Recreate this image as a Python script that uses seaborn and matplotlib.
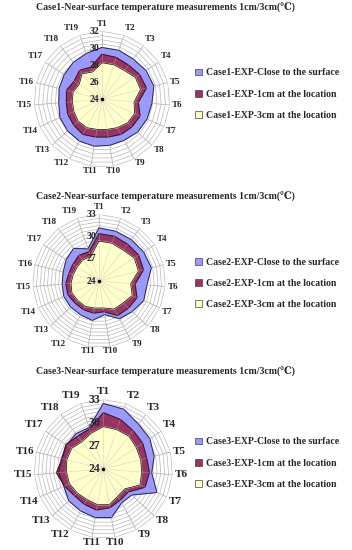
import numpy as np
import matplotlib
matplotlib.use("Agg")
import matplotlib.pyplot as plt
import seaborn as sns
from matplotlib.patches import Patch

sns.set_style("white")
plt.rcParams['font.family'] = ['Liberation Serif', 'DejaVu Serif']
plt.rcParams['font.weight'] = 'bold'

points = ["T%d" % i for i in range(1, 20)]

# case 1 (axis 24-32)
case1_surface = [30.1, 30.1, 30.0, 30.2, 30.3, 29.9, 29.8, 29.7, 29.5, 29.5,
                 29.6, 29.6, 29.5, 29.4, 29.1, 29.2, 29.3, 29.5, 29.7]
case1_1cm = [29.3, 29.2, 29.1, 29.3, 29.4, 28.3, 28.9, 28.8, 28.7, 28.5,
             28.5, 28.7, 28.5, 28.4, 28.2, 28.3, 27.9, 28.3, 28.0]
case1_3cm = [28.3, 28.3, 28.3, 28.7, 28.7, 27.8, 28.2, 28.1, 27.8, 27.6,
             27.6, 27.8, 27.8, 27.6, 27.5, 27.5, 27.2, 27.8, 27.4]

# case 2 (axis 24-33)
case2_surface = [31.2, 31.1, 31.1, 31.2, 31.3, 30.5, 30.6, 30.1, 29.8, 28.6,
                 29.4, 29.2, 29.2, 29.2, 29.0, 29.0, 29.3, 29.6, 28.6]
case2_1cm = [30.4, 30.4, 30.3, 30.4, 30.2, 28.9, 29.6, 29.4, 29.3, 28.2,
             28.4, 28.4, 28.4, 28.6, 28.5, 28.2, 28.2, 28.4, 28.2]
case2_3cm = [29.4, 29.4, 29.3, 29.7, 29.5, 28.3, 28.9, 28.4, 28.3, 27.7,
             27.7, 27.9, 27.9, 28.0, 27.8, 27.6, 27.5, 27.6, 27.5]

# case 3 (axis 24-33)
case3_surface = [32.5, 32.2, 31.4, 31.2, 30.8, 30.3, 31.6, 29.0, 29.0, 30.4,
                 30.4, 30.2, 30.1, 29.6, 29.8, 29.6, 29.7, 29.8, 29.7]
case3_1cm = [31.3, 30.8, 30.3, 30.1, 29.8, 30.0, 29.9, 28.4, 28.6, 29.1,
             29.4, 29.2, 29.1, 29.5, 30.1, 29.5, 29.8, 29.4, 29.5]
case3_3cm = [29.5, 29.4, 29.4, 29.1, 29.0, 29.0, 29.2, 27.8, 28.0, 28.7,
             28.7, 28.5, 28.6, 28.8, 28.8, 28.9, 28.9, 28.5, 28.9]

colors = ["#9999FF", "#993366", "#FFFFCC"]
series_names = ["EXP-Close to the surface", "EXP-1cm at the location", "EXP-3cm at the location"]


def radar(ax, data, rmin, rmax, major, lab_size, tick_size):
    n = len(points)
    theta = np.linspace(0, 2 * np.pi, n, endpoint=False)
    tc = np.append(theta, theta[0])
    ax.set_theta_zero_location("N")
    ax.set_theta_direction(-1)
    ax.set_ylim(rmin, rmax)
    ax.set_xticks([])
    ax.set_yticks([])
    ax.grid(False)
    ax.spines["polar"].set_visible(False)
    ax.patch.set_alpha(0)
    # grid rings and spokes
    for r in np.arange(rmin + 0.5, rmax + 0.01, 0.5):
        ax.plot(tc, np.full(n + 1, r), color="#b8b8b8", lw=0.5, zorder=1)
    for t in theta:
        ax.plot([t, t], [rmin, rmax], color="#b8b8b8", lw=0.5, zorder=1)
    for vals, c in zip(data, colors):
        v = np.append(vals, vals[0])
        ax.fill(tc, v, color=c, zorder=2)
        ax.plot(tc, v, color="#202020", lw=0.6, zorder=3)
    for t in theta:
        ax.plot([t, t], [rmin, rmax], color="#b8b8b8", lw=0.4, zorder=4, alpha=0.6)
    ax.plot([0], [rmin], "o", color="black", ms=1.5, zorder=6)
    for t, p in zip(theta, points):
        s, c = np.sin(t), np.cos(t)
        ha = "left" if s > 0.25 else ("right" if s < -0.25 else "center")
        va = "bottom" if c > 0.25 else ("top" if c < -0.25 else "center")
        dy = 2.5 * c if c > 0 else 0.3 * c
        ax.annotate(p, xy=(t, rmax), xytext=(1.5 * s, dy), textcoords="offset points",
                    ha=ha, va=va, fontsize=lab_size, fontweight="bold",
                    annotation_clip=False)
    for r in np.arange(rmin, rmax + 0.01, major):
        ax.annotate("%d" % r, xy=(0, r), xytext=(-2, 0), textcoords="offset points",
                    ha="right", va="center", fontsize=tick_size, fontweight="bold",
                    zorder=7, annotation_clip=False)


fig = plt.figure(figsize=(3.52, 5.5), dpi=100)

layout = [
    ([0.0966, 0.696, 0.386, 0.247], [case1_surface, case1_1cm, case1_3cm], 24, 32, 2, 6.5, 7, "Case1", 0.985, 0.829),
    ([0.0923, 0.368, 0.378, 0.242], [case2_surface, case2_1cm, case2_3cm], 24, 33, 3, 6.5, 7, "Case2", 0.642, 0.485),
    ([0.0966, 0.0213, 0.394, 0.252], [case3_surface, case3_1cm, case3_3cm], 24, 33, 3, 8, 8.5, "Case3", 0.3236, 0.158),
]

for rect, data, rmin, rmax, major, ls, ts, name, ty, ly in layout:
    ax = fig.add_axes(rect, projection="polar")
    radar(ax, data, rmin, rmax, major, ls, ts)
    fig.text(0.469, ty, name + "-Near-surface temperature measurements 1cm/3cm(℃)",
             ha="center", va="center", fontsize=7, fontweight="bold")
    handles = [Patch(facecolor=c, edgecolor="#404040", lw=0.5) for c in colors]
    fig.legend(handles, [name + "-" + s for s in series_names], loc="center left",
               bbox_to_anchor=(0.555, ly), frameon=False, fontsize=7,
               handlelength=0.7, handleheight=0.7, handletextpad=0.4,
               labelspacing=1.25, borderpad=0, borderaxespad=0)

fig.savefig("out.png", dpi=100)
